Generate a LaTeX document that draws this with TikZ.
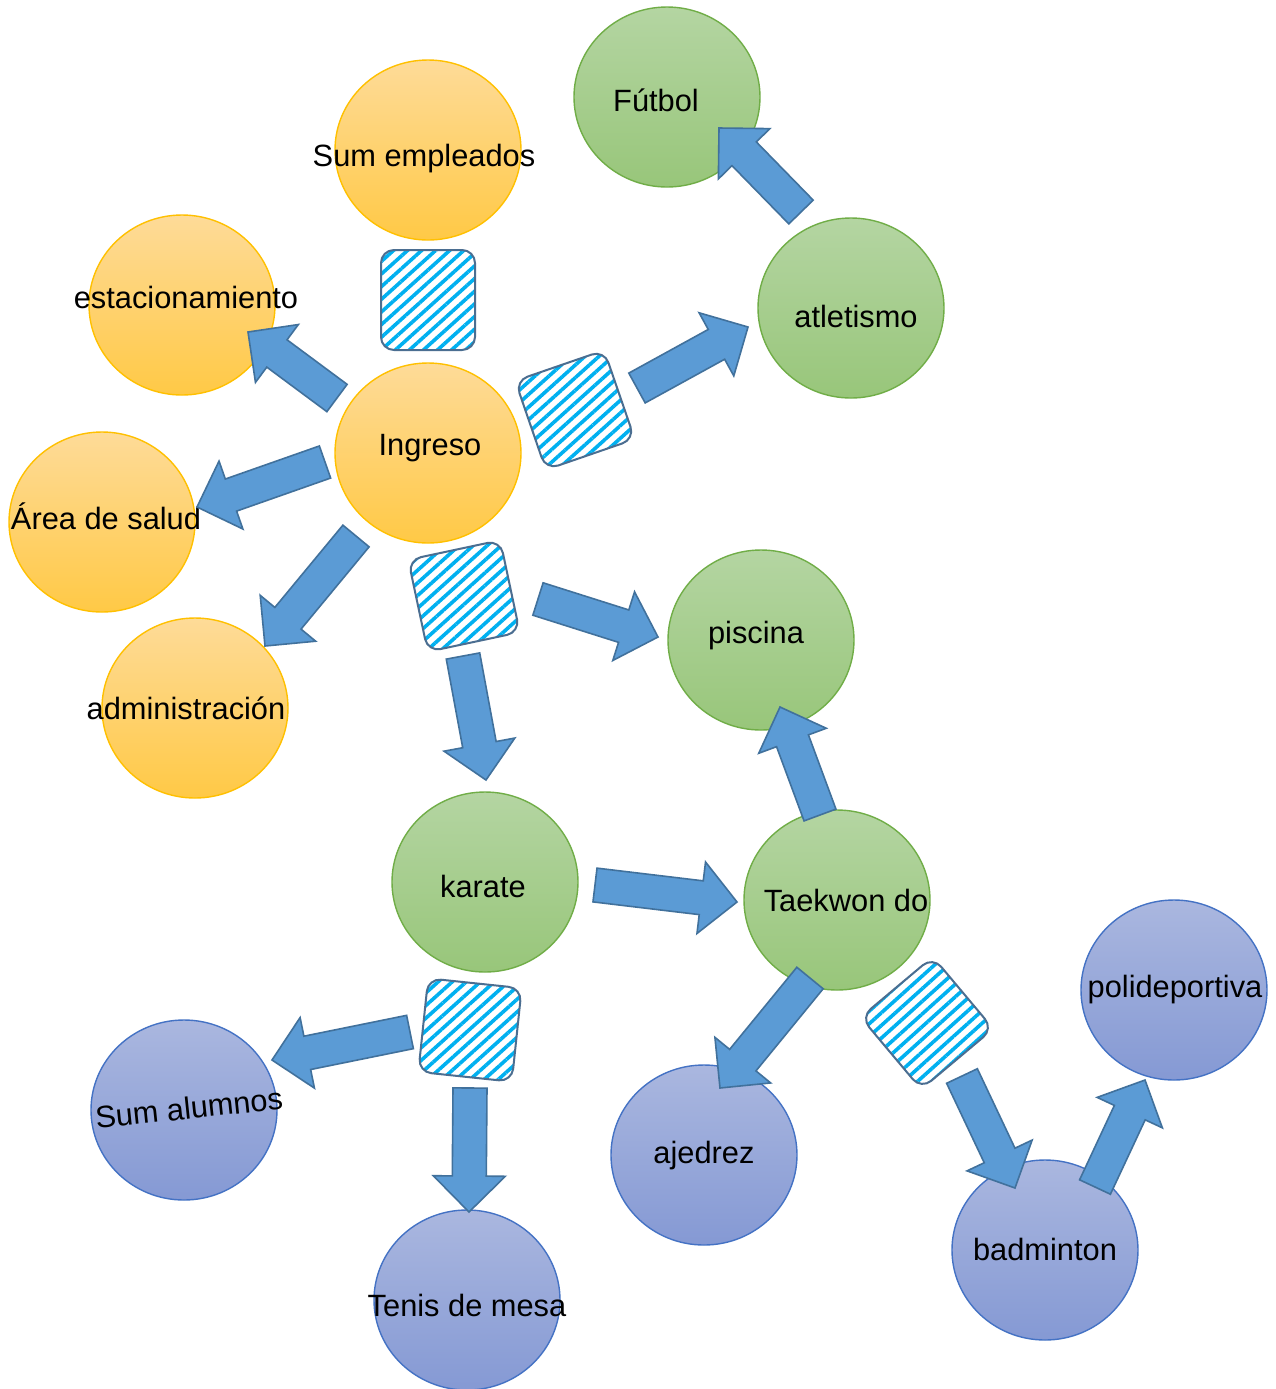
\documentclass[tikz,border=0pt]{standalone}
\usepackage{fontspec}
\setmainfont{Liberation Sans}
\usetikzlibrary{shapes.geometric,calc,patterns.meta}
\definecolor{orT}{RGB}{254,219,152}
\definecolor{orBo}{RGB}{255,201,70}
\definecolor{orLine}{RGB}{255,192,0}
\definecolor{grT}{RGB}{180,213,162}
\definecolor{grBo}{RGB}{152,198,122}
\definecolor{grLine}{RGB}{112,173,71}
\definecolor{blT}{RGB}{170,183,223}
\definecolor{blBo}{RGB}{133,153,212}
\definecolor{blLine}{RGB}{68,114,196}
\definecolor{arrF}{RGB}{91,155,213}
\definecolor{arrB}{RGB}{65,113,156}
\definecolor{boxLine}{RGB}{75,110,145}
\definecolor{hatchC}{RGB}{0,176,240}
\newcommand\ctext[3]{\smash{\makebox[0pt]{\kern#1\raisebox{#2}{\makebox[0pt]{#3}}\kern-#1}}}
\newcommand\barrow[2]{%
  \coordinate (#1-n) at ($(#2)!18pt!(#1)$);
  \draw[blockarr] ($(#1)!8.5pt!90:(#2)$) -- ($(#1-n)!8.5pt!-90:(#1)$) -- ($(#1-n)!18pt!-90:(#1)$) -- (#2)
    -- ($(#1-n)!18pt!90:(#1)$) -- ($(#1-n)!8.5pt!90:(#1)$) -- ($(#1)!8.5pt!-90:(#2)$) -- cycle;}
\tikzset{
  circ/.style={ellipse, minimum width=93pt, minimum height=90pt, inner sep=0pt, line width=0.7pt,
    font=\fontsize{15.4}{18}\selectfont},
  orc/.style={circ, draw=orLine, top color=orT, bottom color=orBo},
  grc/.style={circ, draw=grLine, top color=grT, bottom color=grBo},
  blc/.style={circ, draw=blLine, top color=blT, bottom color=blBo},
  hbox/.style={rectangle, rounded corners=6.5pt, minimum width=47pt, minimum height=47pt, inner sep=0pt,
    draw=boxLine, line width=1pt, pattern={Lines[angle=42,distance=4.7pt,line width=1.8pt]}, pattern color=hatchC},
  blockarr/.style={fill=arrF, draw=arrB, line width=0.8pt, line join=miter}
}
\begin{document}
\begin{tikzpicture}[x=0.5pt,y=-0.5pt]
\fill[white] (0,0) rectangle (1276,1389);
\useasboundingbox (0,0) rectangle (1276,1389);
% circles
\node[orc] (sume) at (428,150) {\ctext{-2pt}{-8pt}{Sum empleados}};
\node[orc] (esta) at (182,305) {\ctext{2pt}{-1.5pt}{estacionamiento}};
\node[orc] (salud) at (102,522) {\ctext{2pt}{-3.5pt}{Área de salud}};
\node[orc] (admin) at (195,708) {\ctext{-4.5pt}{-5.5pt}{administración}};
\node[orc] (ingr) at (428,453) {\ctext{1pt}{-1pt}{Ingreso}};
\node[grc] (futb) at (667,97) {\ctext{-5.5pt}{-7pt}{Fútbol}};
\node[grc] (atle) at (851,308) {\ctext{2.5pt}{-9.5pt}{atletismo}};
\node[grc] (pisc) at (761,640) {\ctext{-2.5pt}{-1.5pt}{piscina}};
\node[grc] (kara) at (485,882) {\ctext{-1pt}{-7.5pt}{karate}};
\node[grc] (taek) at (837,900) {\ctext{4.5pt}{-5.5pt}{Taekwon do}};
\node[blc] (alum) at (184,1110) {\ctext{2.5pt}{-4.5pt}{\rotatebox[origin=c]{6}{Sum alumnos}}};
\node[blc] (teni) at (467,1300) {\ctext{0pt}{-8pt}{Tenis de mesa}};
\node[blc] (ajed) at (704,1155) {\ctext{0pt}{-4pt}{ajedrez}};
\node[blc] (badm) at (1045,1250) {\ctext{0pt}{-5pt}{badminton}};
\node[blc] (poli) at (1174,990) {\ctext{0.5pt}{-3.5pt}{polideportiva}};
% hatched boxes
\node[hbox, minimum height=50pt] (boxA) at (428,300) {};
\node[hbox, rotate=19] (boxB) at (575,410) {};
\node[hbox, rotate=12] (boxC) at (464,596) {};
\node[hbox, rotate=-6] (boxD) at (470,1030) {};
\node[hbox, rotate=40] (boxE) at (927,1023) {};
% arrow ends
\coordinate (t1) at (337,398);   \coordinate (p1) at (248,332);
\coordinate (t2) at (325,462);   \coordinate (p2) at (197,507);
\coordinate (t3) at (356,536);   \coordinate (p3) at (265,646);
\coordinate (t4) at (637,388);   \coordinate (p4) at (748,327);
\coordinate (t5) at (801,212);   \coordinate (p5) at (719,128);
\coordinate (t6) at (538,599);   \coordinate (p6) at (658,637);
\coordinate (t7) at (463,656);   \coordinate (p7) at (486,780);
\coordinate (t8) at (595,885);   \coordinate (p8) at (737,902);
\coordinate (t9) at (820,815);   \coordinate (p9) at (780,707);
\coordinate (t10) at (810,978);  \coordinate (p10) at (720,1088);
\coordinate (t11) at (410,1032); \coordinate (p11) at (272,1060);
\coordinate (t12) at (470,1088); \coordinate (p12) at (469,1212);
\coordinate (t13) at (962,1076); \coordinate (p13) at (1015,1188);
\coordinate (t14) at (1095,1187);\coordinate (p14) at (1145,1080);
\barrow{t1}{p1}
\barrow{t2}{p2}
\barrow{t3}{p3}
\barrow{t4}{p4}
\barrow{t5}{p5}
\barrow{t6}{p6}
\barrow{t7}{p7}
\barrow{t8}{p8}
\barrow{t9}{p9}
\barrow{t10}{p10}
\barrow{t11}{p11}
\barrow{t12}{p12}
\barrow{t13}{p13}
\barrow{t14}{p14}
\end{tikzpicture}
\end{document}
